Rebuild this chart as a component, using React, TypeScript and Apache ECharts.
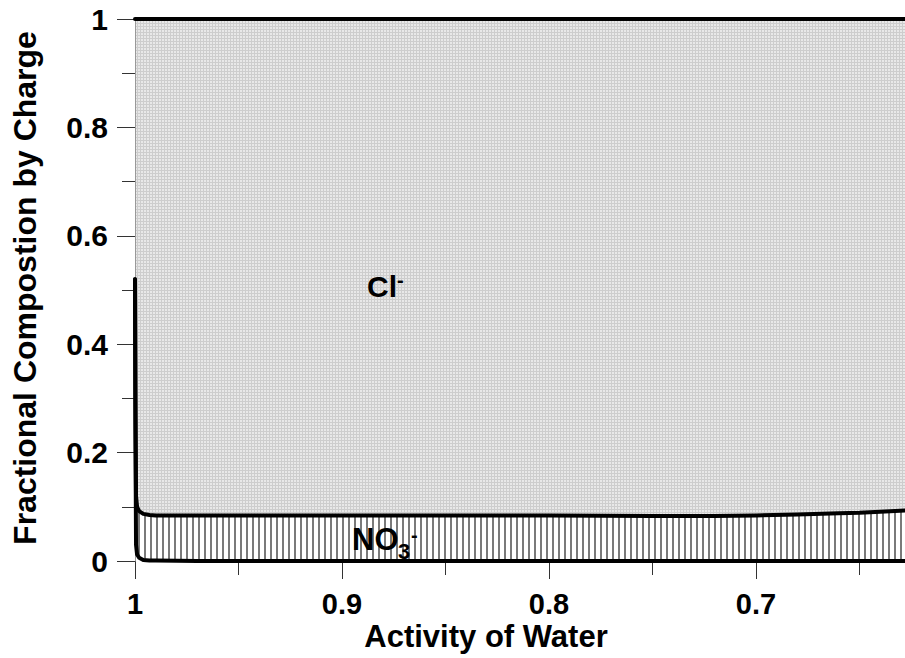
import React, { useEffect, useRef } from "react";
import * as echarts from "echarts";

// Activity of water (x)
const AW = [1.0, 0.9998, 0.9995, 0.999, 0.998, 0.996, 0.993, 0.99, 0.98, 0.97, 0.95, 0.9, 0.85, 0.8, 0.75, 0.72, 0.7, 0.68, 0.66, 0.65, 0.64, 0.628];
// Top of Cl- band (cumulative fraction)
const CL_TOP = [1, 1, 1, 1, 1, 1, 1, 1, 1, 1, 1, 1, 1, 1, 1, 1, 1, 1, 1, 1, 1, 1];
// Top of NO3- band (cumulative fraction)
const NO3_TOP = [0.52, 0.3, 0.12, 0.1, 0.092, 0.087, 0.085, 0.084, 0.084, 0.084, 0.084, 0.084, 0.084, 0.084, 0.083, 0.083, 0.084, 0.086, 0.088, 0.089, 0.091, 0.093];
// Bottom of NO3- band
const LOWER = [0.52, 0.25, 0.03, 0.012, 0.006, 0.002, 0.001, 0.0008, 0.0005, 0.0002, 0, 0, 0, 0, 0, 0, 0, 0, 0, 0, 0, 0];

const X_MAJOR = [1, 0.9, 0.8, 0.7];
const X_MINOR = [0.95, 0.85, 0.75, 0.65];
const X_MIN = 0.628;
const X_MAX = 1;

const FONT = "'Liberation Sans', Arial, Helvetica, sans-serif";

function makeDots(): HTMLCanvasElement {
  const c = document.createElement("canvas");
  c.width = 3;
  c.height = 3;
  const g = c.getContext("2d")!;
  g.fillStyle = "#cdcdcd";
  g.fillRect(0, 0, 3, 3);
  g.fillStyle = "#e8e8e8";
  g.fillRect(0, 0, 2, 2);
  return c;
}

function makeHatch(): HTMLCanvasElement {
  const c = document.createElement("canvas");
  c.width = 6;
  c.height = 6;
  const g = c.getContext("2d")!;
  g.fillStyle = "#ffffff";
  g.fillRect(0, 0, 6, 6);
  g.fillStyle = "#7a7a7a";
  g.fillRect(0, 0, 2, 6);
  return c;
}

const pair = (ys: number[]) => AW.map((x, i) => [x, ys[i]]);

export default function App() {
  const ref = useRef<HTMLDivElement>(null);
  useEffect(() => {
    document.body.style.margin = "0";
    const chart = echarts.init(ref.current!, null, { renderer: "svg" });
    const dots = makeDots();
    const hatch = makeHatch();
    const fillSeries = (name: string, ys: number[], color: any) => ({
      name,
      type: "line",
      data: pair(ys),
      z: 1,
      symbol: "none",
      showSymbol: false,
      lineStyle: { width: 0, opacity: 0 },
      areaStyle: { color, opacity: 1, origin: "start" },
      silent: true,
    });
    const lineSeries = (name: string, ys: number[]) => ({
      name,
      type: "line",
      data: pair(ys),
      z: 3,
      symbol: "none",
      showSymbol: false,
      lineStyle: { width: 4, color: "#000", cap: "round", join: "round" },
      silent: true,
    });
    const tickStyle = { color: "#333", width: 1 };
    const option: any = {
      animation: false,
      grid: { left: 135, right: 0, top: 19, bottom: 97 },
      xAxis: [
        {
          type: "value",
          inverse: true,
          min: X_MIN,
          max: X_MAX,
          position: "bottom",
          axisLine: { show: false },
          splitLine: { show: false },
          axisTick: { show: true, customValues: X_MAJOR, length: 18, lineStyle: tickStyle },
          axisLabel: {
            customValues: X_MAJOR,
            margin: 32,
            fontSize: 29,
            lineHeight: 22,
            fontWeight: "bold",
            fontFamily: FONT,
            color: "#000",
          },
        },
        {
          type: "value",
          inverse: true,
          min: X_MIN,
          max: X_MAX,
          position: "bottom",
          axisLine: { show: false },
          splitLine: { show: false },
          axisTick: { show: true, customValues: X_MINOR, length: 14, lineStyle: tickStyle },
          axisLabel: { show: false },
        },
      ],
      yAxis: {
        type: "value",
        min: 0,
        max: 1,
        interval: 0.2,
        z: 2,
        axisLine: { show: true, lineStyle: { color: "#999", width: 1 } },
        splitLine: { show: false },
        axisTick: { show: true, length: 18, lineStyle: tickStyle },
        minorTick: { show: true, splitNumber: 2, length: 13, lineStyle: tickStyle },
        minorSplitLine: { show: false },
        axisLabel: {
          margin: 27,
          fontSize: 30,
          fontWeight: "bold",
          fontFamily: FONT,
          color: "#000",
        },
      },
      series: [
        fillSeries("Cl fill", CL_TOP, { image: dots, repeat: "repeat", imageWidth: 3, imageHeight: 3 }),
        fillSeries("NO3 fill", NO3_TOP, { image: hatch, repeat: "repeat", imageWidth: 6, imageHeight: 6 }),
        fillSeries("Lower fill", LOWER, "#ffffff"),
        lineSeries("Cl top", CL_TOP),
        lineSeries("NO3 top", NO3_TOP),
        lineSeries("Lower", LOWER),
      ],
      graphic: [
        {
          type: "text",
          x: 486,
          y: 636,
          style: {
            text: "Activity of Water",
            font: `bold 31px ${FONT}`,
            lineHeight: 24,
            fill: "#000",
            textAlign: "center",
            textVerticalAlign: "middle",
          },
        },
        {
          type: "text",
          x: 25,
          y: 288,
          rotation: Math.PI / 2,
          style: {
            text: "Fractional Compostion by Charge",
            font: `bold 32px ${FONT}`,
            fill: "#000",
            textAlign: "center",
            textVerticalAlign: "middle",
          },
        },
        {
          type: "text",
          x: 367,
          y: 286,
          z: 10,
          style: { text: "Cl", font: `bold 30px ${FONT}`, fill: "#000", textAlign: "left", textVerticalAlign: "middle" },
        },
        {
          type: "text",
          x: 397,
          y: 280,
          z: 10,
          style: { text: "-", font: `bold 20px ${FONT}`, fill: "#000", textAlign: "left", textVerticalAlign: "middle" },
        },
        {
          type: "text",
          x: 352,
          y: 539,
          z: 10,
          style: { text: "NO", font: `bold 31px ${FONT}`, fill: "#000", textAlign: "left", textVerticalAlign: "middle" },
        },
        {
          type: "text",
          x: 398,
          y: 551,
          z: 10,
          style: { text: "3", font: `bold 22px ${FONT}`, fill: "#000", textAlign: "left", textVerticalAlign: "middle" },
        },
        {
          type: "text",
          x: 411,
          y: 535,
          z: 10,
          style: { text: "-", font: `bold 20px ${FONT}`, fill: "#000", textAlign: "left", textVerticalAlign: "middle" },
        },
      ],
    };
    chart.setOption(option);
    return () => chart.dispose();
  }, []);
  return <div ref={ref} style={{ width: 905, height: 658 }} />;
}
